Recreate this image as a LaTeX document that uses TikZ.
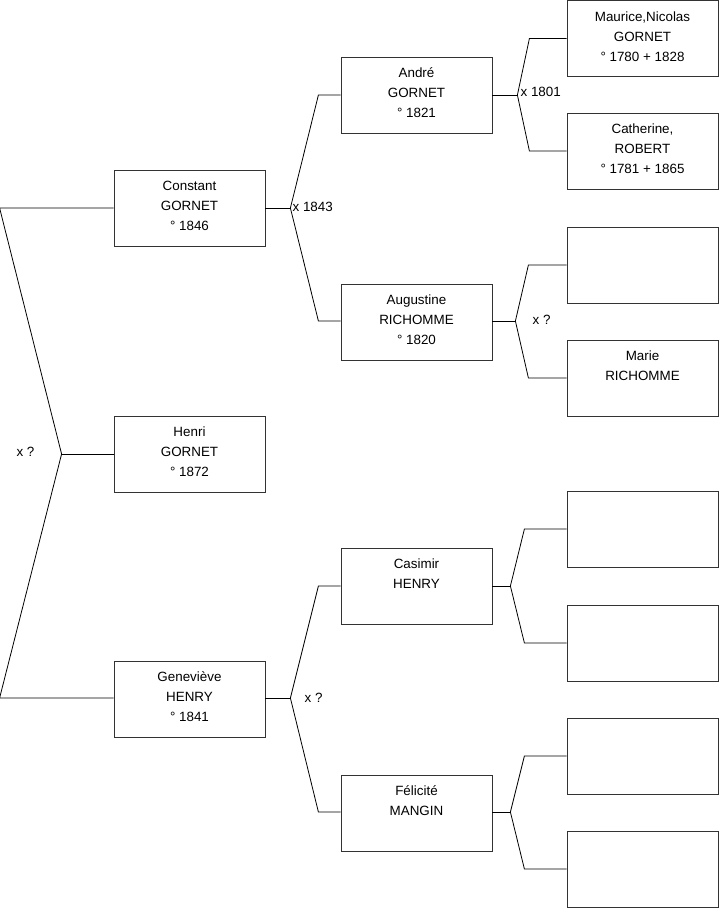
\documentclass[tikz,border=0pt]{standalone}
\usepackage{fontspec}
\setmainfont{Liberation Sans}
\usepackage{tikz}
\usetikzlibrary{positioning}

\begin{document}
\begin{tikzpicture}[
    x=1pt, y=-1pt,
    person/.style={draw=black!80, line width=0.8pt, minimum width=151pt, minimum height=76pt,
                   inner sep=0pt, align=center, font=\fontsize{13.4}{20}\selectfont,
                   execute at begin node=\rule[-6pt]{0pt}{57.6pt}},
    link/.style={line width=0.8pt},
    lbl/.style={font=\fontsize{13.4}{16}\selectfont, inner sep=1pt},
]
\useasboundingbox (0,0) rectangle (719,908);

% === Column 1: child and parents ===
\node[person] (constant) at (189.5,208) {Constant\\GORNET\\° 1846};
\node[person] (henri) at (189.5,454) {Henri\\GORNET\\° 1872};
\node[person] (genevieve) at (189.5,699) {Geneviève\\HENRY\\° 1841};

% === Column 2: grandparents ===
\node[person] (andre) at (416.5,95) {André\\GORNET\\° 1821};
\node[person] (augustine) at (416.5,322) {Augustine\\RICHOMME\\° 1820};
\node[person] (casimir) at (416.5,586) {Casimir\\HENRY\\};
\node[person] (felicite) at (416.5,813) {Félicité\\MANGIN\\};

% === Column 3: great-grandparents ===
\node[person] (maurice) at (642.5,38.5) {Maurice,Nicolas\\GORNET\\° 1780 + 1828};
\node[person] (catherine) at (642.5,151) {Catherine,\\ROBERT\\° 1781 + 1865};
\node[person] (aug_father) at (642.5,265) {};
\node[person] (marie) at (642.5,378) {Marie\\RICHOMME\\};
\node[person] (cas_father) at (642.5,529) {};
\node[person] (cas_mother) at (642.5,643) {};
\node[person] (fel_father) at (642.5,756) {};
\node[person] (fel_mother) at (642.5,869) {};

% === Fork points ===
\coordinate (f_henri) at ([xshift=-52pt]henri.west);
\coordinate (f_constant) at ([xshift=25pt]constant.east);
\coordinate (f_genevieve) at ([xshift=25pt]genevieve.east |- 0,698);
\coordinate (f_andre) at ([xshift=25pt]andre.east);
\coordinate (f_augustine) at ([xshift=23pt]augustine.east |- 0,321);
\coordinate (f_casimir) at ([xshift=18pt]casimir.east);
\coordinate (f_felicite) at ([xshift=18pt]felicite.east |- 0,812);

% Henri -> parents
\draw[link] (henri.west) -- (f_henri);
\draw[link] (f_henri) -- ([xshift=-62pt]f_henri |- constant.west) -- (constant.west);
\draw[link] (f_henri) -- ([xshift=-62pt]f_henri |- 0,698) -- (genevieve.west |- 0,698);

% Constant -> parents
\draw[link] (constant.east) -- (f_constant);
\draw[link] (f_constant) -- ([xshift=28pt]f_constant |- andre.west) -- (andre.west);
\draw[link] (f_constant) -- ([xshift=28pt]f_constant |- 0,321) -- (augustine.west |- 0,321);

% Genevieve -> parents
\draw[link] (genevieve.east |- f_genevieve) -- (f_genevieve);
\draw[link] (f_genevieve) -- ([xshift=28pt]f_genevieve |- casimir.west) -- (casimir.west);
\draw[link] (f_genevieve) -- ([xshift=28pt]f_genevieve |- 0,812) -- (felicite.west |- 0,812);

% Andre -> parents
\draw[link] (andre.east) -- (f_andre);
\draw[link] (f_andre) -- ([xshift=12pt]f_andre |- maurice.west) -- (maurice.west);
\draw[link] (f_andre) -- ([xshift=12pt]f_andre |- catherine.west) -- (catherine.west);

% Augustine -> parents
\draw[link] (augustine.east |- f_augustine) -- (f_augustine);
\draw[link] (f_augustine) -- ([xshift=13pt]f_augustine |- aug_father.west) -- (aug_father.west);
\draw[link] (f_augustine) -- ([xshift=13pt]f_augustine |- marie.west) -- (marie.west);

% Casimir -> parents
\draw[link] (casimir.east) -- (f_casimir);
\draw[link] (f_casimir) -- ([xshift=14pt]f_casimir |- cas_father.west) -- (cas_father.west);
\draw[link] (f_casimir) -- ([xshift=14pt]f_casimir |- cas_mother.west) -- (cas_mother.west);

% Felicite -> parents
\draw[link] (felicite.east |- f_felicite) -- (f_felicite);
\draw[link] (f_felicite) -- ([xshift=14pt]f_felicite |- fel_father.west) -- (fel_father.west);
\draw[link] (f_felicite) -- ([xshift=14pt]f_felicite |- fel_mother.west) -- (fel_mother.west);

% === Marriage labels ===
\node[lbl, left=26pt of f_henri, yshift=2pt] (m_henri) {x ?};
\node[lbl, right=1pt of f_constant, yshift=1pt] (m_constant) {x 1843};
\node[lbl, right=13pt of f_genevieve] (m_genevieve) {x ?};
\node[lbl, right=2pt of f_andre, yshift=3pt] (m_andre) {x 1801};
\node[lbl, right=16pt of f_augustine, yshift=1pt] (m_augustine) {x ?};

\end{tikzpicture}
\end{document}
